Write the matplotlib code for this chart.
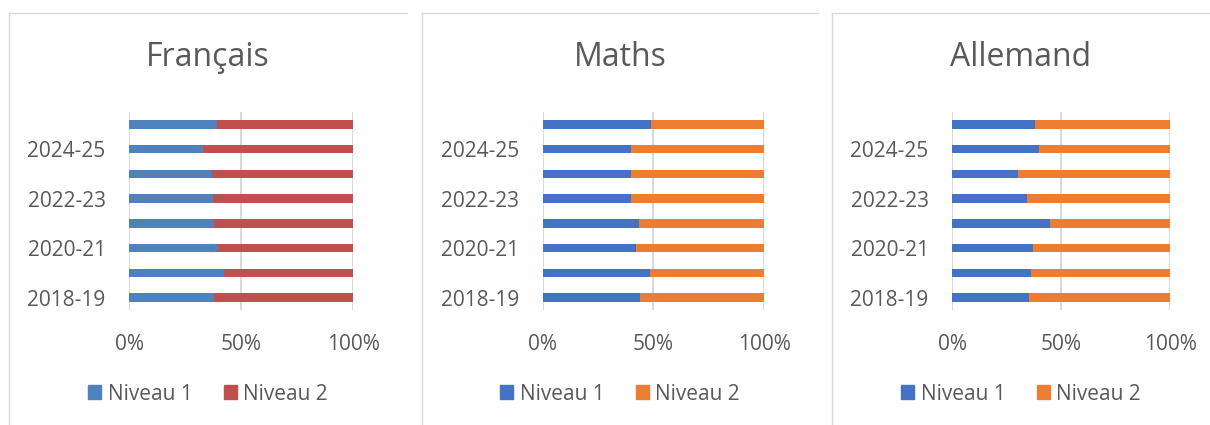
import matplotlib
matplotlib.use("Agg")
import matplotlib.pyplot as plt
import numpy as np
from matplotlib.lines import Line2D
from matplotlib.patches import Patch

# data (share of Niveau 1; Niveau 2 = rest)
years = ["2018-19", "2019-20", "2020-21", "2021-22",
         "2022-23", "2023-24", "2024-25", "2025-26"]
francais_n1 = [0.378, 0.424, 0.394, 0.378, 0.372, 0.368, 0.327, 0.393]
maths_n1 = [0.440, 0.486, 0.422, 0.437, 0.401, 0.401, 0.398, 0.491]
allemand_n1 = [0.352, 0.363, 0.372, 0.450, 0.345, 0.300, 0.397, 0.380]
subjects = ["Français", "Maths", "Allemand"]
series_labels = ["Niveau 1", "Niveau 2"]

W, H = 1210, 425
font = ["Open Sans", "DejaVu Sans"]
grey_txt = "#595959"

panels = [
    # (panel left, panel right, axes left px, axes right px, colors)
    (9, 407, 129.3, 353.3, ("#4F81BD", "#C0504D")),
    (422, 818, 542.7, 764.0, ("#4472C4", "#ED7D31")),
    (832, 1210, 952.3, 1170.0, ("#4472C4", "#ED7D31")),
]
values = [francais_n1, maths_n1, allemand_n1]

fig = plt.figure(figsize=(W / 100, H / 100), dpi=100)
fig.patch.set_facecolor("white")

for (pl, pr, al, ar, cols), title, n1 in zip(panels, subjects, values):
    # chart area border (left + top)
    fig.add_artist(Line2D([pl / W, pr / W], [1 - 13 / H, 1 - 13 / H],
                          transform=fig.transFigure, color="#D9D9D9", lw=1))
    fig.add_artist(Line2D([pl / W, pl / W], [0, 1 - 13 / H],
                          transform=fig.transFigure, color="#D9D9D9", lw=1))

    ax = fig.add_axes([al / W, 1 - 310 / H, (ar - al) / W, 198 / H])
    n1 = np.array(n1)
    n2 = 1 - n1
    y = np.arange(len(years))
    ax.barh(y, n1, height=0.35, color=cols[0], label=series_labels[0], zorder=3)
    ax.barh(y, n2, left=n1, height=0.35, color=cols[1], label=series_labels[1], zorder=3)

    ax.set_xlim(0, 1)
    ax.set_ylim(-0.5, len(years) - 0.5)
    ax.set_xticks([0, 0.5, 1])
    ax.set_xticklabels(["0%", "50%", "100%"], family=font, fontsize=15, color=grey_txt)
    ax.set_yticks(y[::2])
    ax.set_yticklabels(years[::2], family=font, fontsize=15, color=grey_txt)
    ax.tick_params(length=0)
    ax.tick_params(axis="x", pad=17)
    ax.tick_params(axis="y", pad=17)
    for s in ax.spines.values():
        s.set_visible(False)
    ax.grid(axis="x", color="#D9D9D9", lw=1.5, zorder=0)

    cx = (pl + min(pr, 410 + pl)) / 2 / W
    fig.text(cx, 1 - 57 / H, title, ha="center", va="center",
             family=font, fontsize=23, color=grey_txt)

    handles = [Patch(color=cols[0]), Patch(color=cols[1])]
    fig.legend(handles, series_labels, loc="center", bbox_to_anchor=(cx, 1 - 394 / H),
               ncol=2, frameon=False, handlelength=0.65, handleheight=0.65,
               handletextpad=0.3, columnspacing=1.5,
               prop={"family": font, "size": 15}, labelcolor=grey_txt)

plt.savefig("out.png", dpi=100)
